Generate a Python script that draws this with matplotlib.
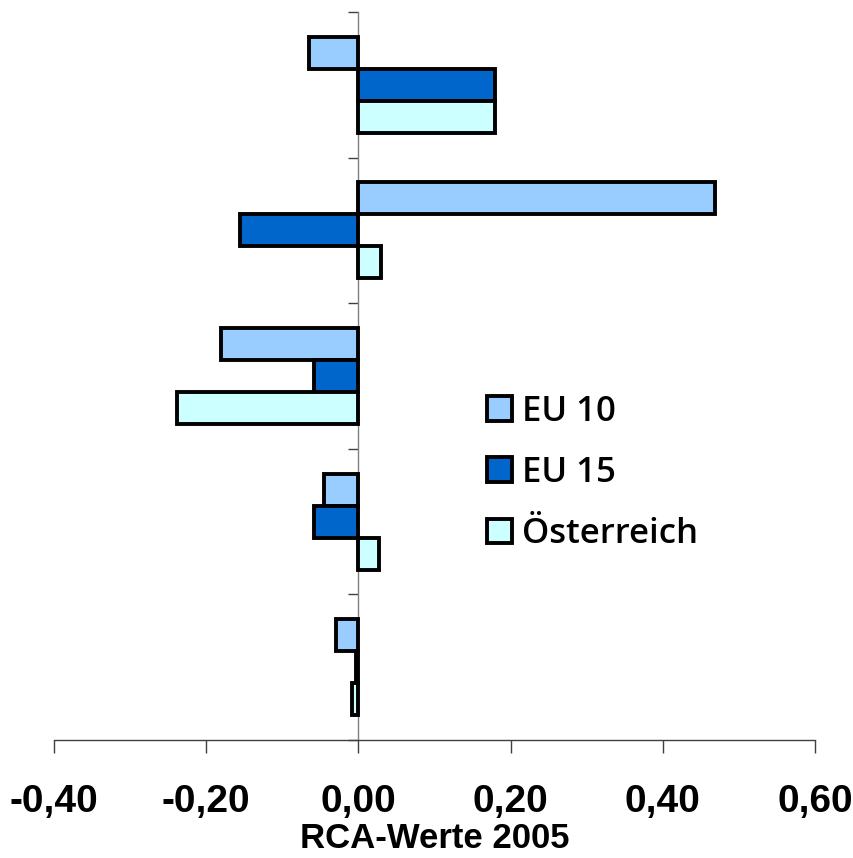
import numpy as np
import matplotlib.pyplot as plt
from matplotlib import font_manager

# RCA values 2005, five groups from top to bottom
groups = ["1", "2", "3", "4", "5"]
eu10 = [-0.065, 0.468, -0.181, -0.045, -0.030]
eu15 = [0.179, -0.156, -0.058, -0.058, -0.003]
oesterreich = [0.179, 0.030, -0.238, 0.027, -0.008]

series_names = ["EU 10", "EU 15", "Österreich"]
colors = ["#99CCFF", "#0066CC", "#CCFFFF"]
x_ticks = [-0.4, -0.2, 0.0, 0.2, 0.4, 0.6]
x_ticklabels = ["-0,40", "-0,20", "0,00", "0,20", "0,40", "0,60"]

names = {f.name for f in font_manager.fontManager.ttflist}
tick_font = "Liberation Sans Narrow" if "Liberation Sans Narrow" in names else "Liberation Sans"

fig = plt.figure(figsize=(8.54, 8.58), dpi=100)
ax = fig.add_axes([0.0632, 0.1375, 0.8911, 0.8485])

bar_h = 0.22
centers = np.arange(len(groups)) + 0.5
for i, (vals, col, name) in enumerate(zip([eu10, eu15, oesterreich], colors, series_names)):
    ax.barh(centers + (i - 1) * bar_h, vals, height=bar_h, color=col,
            edgecolor="black", linewidth=2.8, label=name, zorder=3)

ax.set_xlim(-0.4, 0.6)
ax.set_ylim(len(groups), 0)

ax.spines["left"].set_position(("data", 0))
ax.spines["left"].set_color("#808080")
ax.spines["left"].set_linewidth(1.0)
ax.spines["bottom"].set_color("#404040")
ax.spines["bottom"].set_linewidth(1.0)
ax.spines["top"].set_visible(False)
ax.spines["right"].set_visible(False)

ax.set_yticks(np.arange(len(groups) + 1))
ax.set_yticklabels([])
ax.tick_params(axis="y", direction="out", length=7, width=1, color="#404040")

ax.set_xticks(x_ticks)
ax.set_xticklabels(x_ticklabels, fontsize=28, fontweight="bold", family=tick_font)
ax.tick_params(axis="x", direction="out", length=9, width=1, pad=23, color="#404040")
ax.set_xlabel("RCA-Werte 2005", fontsize=25, fontweight="bold", family=tick_font, labelpad=1)

leg = ax.legend(loc="upper left", bbox_to_anchor=(0.528, 0.517), frameon=False,
                prop={"family": "Open Sans", "size": 25, "weight": "semibold"},
                handlelength=0.72, handleheight=0.72, handletextpad=0.3,
                labelspacing=0.78)

fig.savefig("out.png", dpi=100)
